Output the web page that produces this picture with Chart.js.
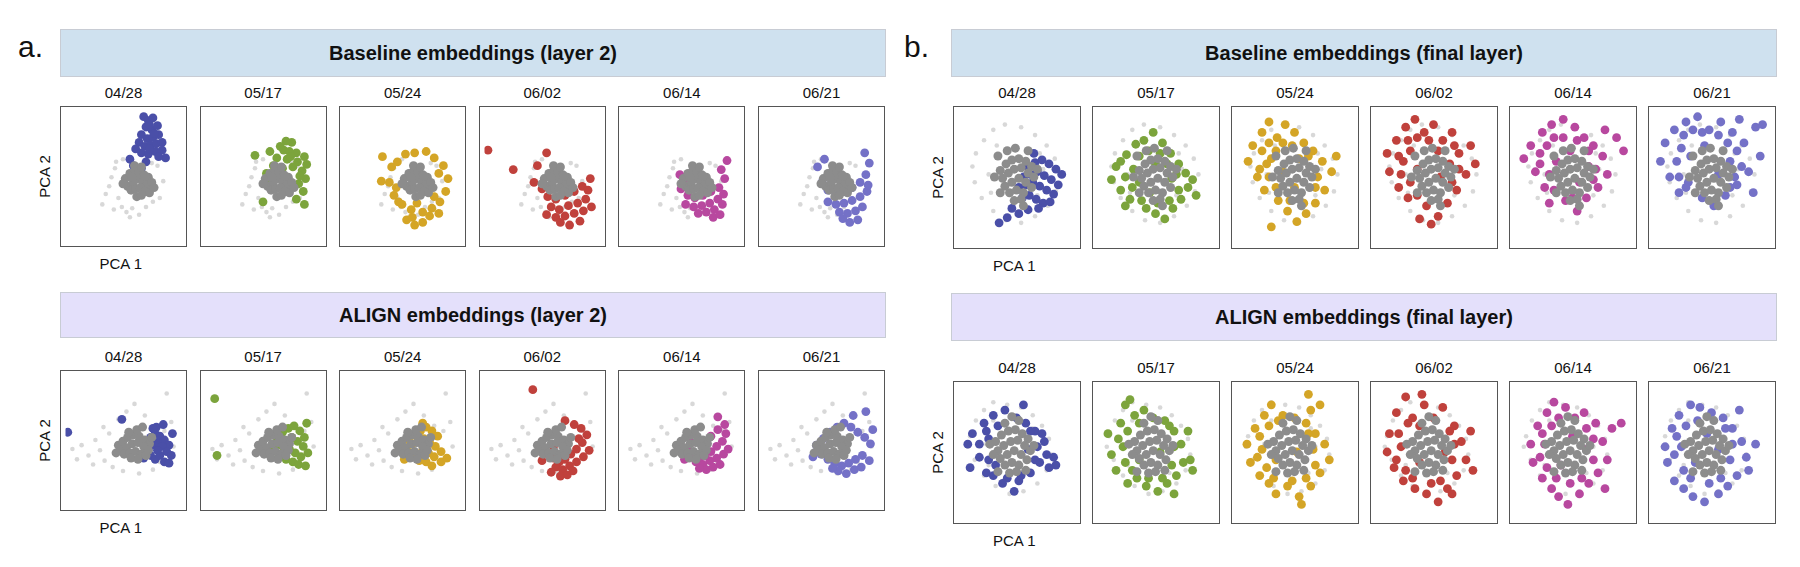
<!DOCTYPE html>
<html>
<head>
<meta charset="utf-8">
<script src="https://cdn.jsdelivr.net/npm/chart.js@4"></script>
<style>
  body { margin: 0; background: #fff; font-family: "Liberation Sans", Arial, sans-serif; }
  #wrap { position: relative; width: 1800px; height: 567px; }
  .banner { position: absolute; border: 1px solid #c8ccd4; font-weight: bold; font-size: 20px; color: #111;
            display: flex; align-items: center; justify-content: center; box-sizing: border-box; }
  .box { position: absolute; border: 1.5px solid #555; box-sizing: border-box; }
  .date { position: absolute; font-size: 15px; color: #111; text-align: center; }
  .lab { position: absolute; font-size: 15px; color: #111; }
  .tag { position: absolute; font-size: 30px; color: #111; }
</style>
</head>
<body>
<div id="wrap"></div>
<script>
// dates shown above each panel
const dates = ['04/28', '05/17', '05/24', '06/02', '06/14', '06/21'];
const dateColors = ['#4a4fa8', '#7ca43c', '#d4a526', '#c0413c', '#b8489f', '#7471c7'];

// grey background clouds (all other dates), PCA coords scaled 0-10
const greyCoreA1 = [[5.2,4.8],[5.6,5.2],[6.0,5.4],[6.4,5.3],[6.8,5.1],[7.2,4.9],[5.4,4.2],[5.9,4.5],[6.3,4.8],[6.7,4.6],[7.1,4.3],[7.5,4.5],[5.7,3.9],[6.1,4.0],[6.5,4.1],[6.9,3.8],[7.3,3.7],[6.2,3.4],[6.6,3.5],[5.0,4.4],[7.7,4.1],[6.0,5.8],[6.6,5.7],[5.8,4.9],[6.9,5.0]];
const greyHaloA1 = [[3.5,3.6],[4.0,4.9],[4.3,5.6],[4.6,3.3],[3.8,4.2],[4.9,2.6],[5.3,2.2],[5.8,2.5],[6.4,2.0],[7.0,2.6],[7.6,3.0],[8.2,3.3],[8.5,4.6],[8.0,5.8],[4.4,6.1],[5.0,6.3],[7.5,6.0],[3.2,2.8],[5.6,1.8],[4.2,2.4]];
const greyCoreA2 = [[4.6,4.6],[5.0,4.9],[5.4,5.2],[5.9,5.4],[6.4,5.3],[6.9,5.0],[7.3,4.7],[4.8,4.2],[5.3,4.4],[5.8,4.7],[6.3,4.8],[6.8,4.5],[7.2,4.2],[5.1,3.9],[5.6,4.0],[6.1,4.1],[6.6,3.9],[7.0,3.8],[5.7,3.6],[6.3,3.5],[6.2,5.8],[5.5,5.6],[7.5,5.2],[4.4,4.0],[6.7,6.0]];
const greyHaloA2 = [[0.6,4.3],[1.4,4.6],[2.0,3.8],[2.6,5.0],[3.0,4.2],[3.4,3.4],[3.8,5.5],[4.1,2.9],[2.4,3.1],[3.3,6.0],[4.6,6.6],[5.3,7.2],[6.0,7.8],[6.9,6.9],[7.8,6.1],[8.6,5.7],[9.2,6.4],[8.8,8.6],[8.2,3.3],[7.6,2.7],[5.0,2.6],[6.4,2.4],[1.0,3.5],[9.4,4.5]];
const greyCoreB1 = [[3.6,5.5],[4.1,6.0],[4.6,6.3],[5.2,6.4],[5.8,6.2],[6.3,5.8],[3.8,4.9],[4.3,5.3],[4.8,5.6],[5.4,5.7],[6.0,5.3],[6.5,5.0],[4.0,4.3],[4.6,4.6],[5.2,4.9],[5.8,4.6],[6.3,4.2],[4.4,3.8],[5.0,4.0],[5.6,3.8],[4.8,3.2],[5.4,3.3],[3.4,6.6],[6.0,7.0],[4.9,7.2],[3.1,5.0],[6.8,5.6],[4.2,7.0],[5.6,2.8],[3.6,3.8]];
const greyHaloB1 = [[1.5,6.8],[2.2,7.8],[3.0,8.6],[4.0,9.0],[5.4,8.8],[6.6,8.2],[7.6,7.4],[8.3,6.4],[8.7,5.2],[8.4,3.9],[7.7,2.8],[6.6,2.0],[5.4,1.5],[4.1,1.7],[3.0,2.4],[2.0,3.4],[1.4,4.6],[1.2,5.8],[2.6,5.2],[7.3,5.6],[3.3,7.4],[6.8,3.6],[2.8,3.8],[7.0,6.8]];
const greyCoreB2 = [[3.2,5.8],[3.7,6.3],[4.3,6.6],[4.9,6.7],[5.5,6.4],[6.0,6.0],[3.4,5.1],[3.9,5.5],[4.5,5.8],[5.1,5.9],[5.7,5.5],[6.2,5.1],[3.6,4.5],[4.2,4.8],[4.8,5.1],[5.4,4.8],[5.9,4.4],[4.0,4.0],[4.6,4.2],[5.2,4.0],[4.4,3.4],[5.0,3.5],[4.0,7.2],[5.2,7.4],[3.0,4.8],[2.7,5.6],[6.5,5.5],[3.4,3.5],[5.8,3.6],[4.6,7.7]];
const greyHaloB2 = [[1.0,6.2],[1.5,7.4],[2.2,8.2],[3.0,8.8],[4.2,8.6],[5.4,8.4],[6.4,7.8],[7.2,7.0],[7.8,6.0],[8.0,4.8],[7.6,3.6],[6.8,2.6],[5.6,2.0],[4.4,1.8],[3.2,2.4],[2.2,3.2],[1.4,4.4],[0.8,5.4],[2.4,5.6],[6.8,5.4],[3.0,7.4],[6.2,3.4],[2.6,4.0],[6.4,6.8]];

// highlighted date points: baseline layer 2
const baseL2 = [
  [[6.8,9.6],[7.2,9.3],[7.6,9.5],[7.0,8.8],[7.5,8.6],[8.0,8.9],[6.6,8.2],[7.1,7.9],[7.6,8.0],[8.1,8.2],[6.4,7.6],[6.9,7.3],[7.4,7.4],[7.9,7.5],[8.4,7.6],[6.6,6.8],[7.2,6.7],[7.8,6.9],[8.4,7.0],[8.7,6.4],[6.1,7.1],[5.6,6.3],[5.9,5.8],[7.0,6.1],[6.6,5.6],[7.3,9.0],[7.7,8.3],[7.3,7.1],[8.1,6.5]],
  [[7.5,7.6],[6.8,7.0],[5.6,6.9],[4.3,6.6],[7.9,6.8],[6.2,6.4],[7.1,6.3],[8.0,6.1],[8.6,6.5],[5.9,5.8],[6.7,5.6],[7.6,5.7],[8.4,5.4],[5.3,5.2],[8.7,4.8],[8.1,4.4],[8.5,3.8],[7.9,3.2],[8.6,2.8],[5.0,3.0],[5.5,4.6],[7.3,6.9],[6.5,7.3],[8.8,5.9],[7.0,7.7],[7.4,6.5],[8.2,5.0]],
  [[3.3,6.5],[3.2,4.6],[4.1,5.7],[4.6,6.1],[5.3,6.7],[6.1,6.8],[7.1,6.9],[7.8,6.4],[8.6,5.8],[9.0,4.8],[8.8,3.8],[8.3,3.0],[7.6,2.5],[6.8,2.2],[5.8,2.4],[5.0,2.8],[4.3,3.5],[3.9,4.5],[5.4,1.6],[6.1,1.2],[6.8,1.4],[4.7,3.0],[7.4,1.9],[4.5,4.1],[5.9,1.8],[8.2,2.1],[7.8,3.4],[6.3,2.9],[8.2,5.2]],
  [[0.3,7.0],[2.5,5.5],[5.4,6.8],[4.6,5.8],[4.3,4.5],[5.0,4.0],[5.5,3.4],[6.2,3.2],[7.0,3.5],[7.8,3.8],[8.5,4.2],[9.2,4.8],[5.8,2.6],[6.5,2.4],[7.3,2.7],[8.1,2.9],[8.8,3.2],[5.4,2.0],[6.2,1.8],[7.0,1.9],[7.8,2.1],[8.6,2.3],[9.3,2.6],[7.4,1.2],[8.3,1.5],[6.6,1.4],[9.0,3.9]],
  [[5.3,4.6],[5.0,4.0],[5.6,3.5],[6.2,3.3],[6.9,3.5],[7.6,3.8],[8.3,4.1],[8.8,4.8],[5.4,2.8],[6.1,2.6],[6.8,2.7],[7.5,2.9],[8.2,3.2],[8.7,3.6],[6.5,2.1],[7.2,2.2],[7.9,2.4],[8.6,2.8],[7.8,1.8],[8.4,2.0],[4.9,5.1],[8.5,5.5],[9.0,6.2],[5.8,4.1]],
  [[4.7,5.7],[5.1,4.5],[5.6,3.9],[6.3,3.6],[7.0,3.8],[7.7,4.1],[8.4,4.5],[8.9,5.1],[9.2,6.0],[5.6,3.0],[6.3,2.8],[7.0,2.9],[7.7,3.1],[8.4,3.4],[9.0,3.8],[6.6,2.2],[7.3,2.1],[8.0,2.3],[8.6,2.6],[7.5,1.4],[8.2,1.6],[6.9,1.7],[8.8,6.8],[5.3,6.3],[9.1,4.3]]
];
// ALIGN layer 2
const alignL2 = [
  [[7.0,4.8],[7.4,5.2],[7.8,5.5],[8.2,5.3],[8.6,5.0],[9.0,4.6],[7.2,4.3],[7.6,4.6],[8.0,4.8],[8.4,4.5],[8.8,4.1],[9.2,3.8],[7.4,3.8],[7.8,3.5],[8.2,3.8],[8.6,3.3],[9.3,5.5],[7.9,6.0],[8.5,6.2],[6.8,3.6],[0.2,5.6],[4.9,6.6],[8.0,4.2],[9.0,3.2],[7.6,5.9]],
  [[6.2,5.2],[6.7,5.6],[7.2,5.9],[7.7,6.1],[8.2,5.7],[8.6,5.2],[6.5,4.6],[7.0,4.9],[7.5,5.2],[8.0,4.9],[8.5,4.5],[8.9,4.0],[6.8,4.1],[7.3,4.3],[7.8,4.0],[8.3,3.7],[7.0,3.5],[7.6,3.3],[8.1,3.1],[6.4,3.8],[8.8,6.3],[0.8,8.2],[1.0,3.8],[8.7,3.0],[5.9,4.4]],
  [[5.6,5.0],[6.1,5.4],[6.6,5.7],[7.1,6.0],[7.6,5.7],[8.1,5.3],[5.4,4.4],[5.9,4.7],[6.4,4.9],[6.9,5.1],[7.4,4.8],[7.9,4.5],[8.4,4.1],[5.8,4.0],[6.3,3.9],[6.8,4.2],[7.3,4.0],[7.8,3.7],[8.4,3.3],[6.5,3.4],[7.1,3.3],[7.6,3.0],[8.9,3.6],[6.8,6.3],[5.2,3.5]],
  [[5.5,4.0],[6.0,3.6],[6.5,3.3],[7.0,3.5],[7.5,3.9],[8.0,4.3],[8.5,4.8],[8.9,5.4],[8.4,5.9],[7.8,6.2],[6.2,2.9],[6.8,2.7],[7.4,3.0],[8.0,3.3],[8.6,3.7],[6.6,2.2],[7.2,2.3],[5.8,2.5],[9.1,4.2],[8.2,5.1],[4.2,8.9],[7.0,6.5],[5.0,3.4],[7.7,2.6],[6.0,4.5]],
  [[5.6,4.2],[6.1,3.9],[6.6,3.6],[7.1,3.8],[7.6,4.1],[8.1,4.5],[8.6,4.9],[8.9,5.5],[6.3,3.3],[6.9,3.1],[7.5,3.4],[8.1,3.6],[8.7,3.9],[7.2,2.7],[7.8,2.9],[8.4,3.1],[8.2,5.8],[8.2,6.8],[7.6,5.3],[5.9,4.8],[9.1,4.3],[6.6,2.8],[8.8,6.2],[7.0,4.6],[5.3,3.5]],
  [[4.6,4.6],[5.2,5.1],[5.8,5.6],[6.4,6.0],[7.0,6.3],[7.6,6.0],[8.2,5.6],[8.8,5.2],[9.3,4.7],[5.0,3.9],[5.6,3.5],[6.2,3.2],[6.8,3.0],[7.4,3.2],[8.0,3.5],[8.6,3.8],[9.2,3.4],[6.5,2.6],[7.2,2.4],[7.9,2.7],[8.5,2.9],[7.8,6.9],[8.9,7.2],[4.3,3.7],[9.5,5.8],[6.0,2.8]]
];
// baseline final layer
const baseFinal = [
  [[6.0,5.8],[6.6,6.1],[7.2,6.3],[7.8,6.0],[8.4,5.6],[5.6,5.0],[6.2,5.2],[6.8,5.4],[7.4,5.1],[8.0,4.8],[8.6,4.4],[5.2,4.2],[5.8,4.4],[6.4,4.6],[7.0,4.3],[7.6,4.0],[8.2,3.7],[5.5,3.4],[6.1,3.6],[6.7,3.3],[7.3,3.0],[4.6,2.6],[5.2,2.2],[3.5,1.5],[4.2,1.9],[6.0,2.5],[8.9,5.2],[6.5,6.8],[7.9,3.1],[6.9,2.6]],
  [[1.2,4.8],[1.6,5.8],[2.0,4.0],[2.5,6.7],[2.8,3.3],[3.3,7.5],[3.6,4.6],[4.0,7.8],[4.2,2.6],[4.8,8.4],[5.0,2.2],[5.6,7.6],[5.8,1.8],[6.3,6.8],[6.5,2.6],[7.0,6.0],[7.2,3.3],[7.6,5.3],[7.8,4.2],[8.2,4.8],[3.1,5.6],[6.4,4.9],[5.0,6.0],[4.5,3.8],[8.5,3.6],[2.4,2.8],[2.4,5.0],[3.0,4.2],[3.6,6.6],[4.4,7.0],[5.4,6.8],[6.0,6.0],[6.8,5.2],[7.0,4.0],[6.2,3.2],[5.2,3.0],[3.8,3.2],[2.0,6.2]],
  [[1.0,6.2],[1.4,7.4],[1.8,5.0],[2.2,8.4],[2.4,4.0],[2.8,9.2],[3.0,6.4],[3.5,8.0],[3.6,3.2],[4.2,9.0],[4.4,2.4],[5.0,8.4],[5.2,1.6],[5.8,7.6],[6.0,2.2],[6.6,7.0],[6.8,3.0],[7.4,6.2],[7.6,4.0],[8.2,5.4],[8.6,6.6],[3.0,1.2],[4.0,5.4],[5.4,6.4],[2.6,6.0],[7.0,5.0],[5.0,4.2],[2.2,7.0],[2.8,7.6],[3.4,7.0],[4.0,7.6],[4.8,7.4],[2.0,5.6],[2.8,5.0],[3.4,4.2],[6.2,6.6],[6.8,4.2],[5.8,3.0],[4.6,3.2]],
  [[1.0,6.8],[1.2,5.4],[1.8,7.8],[2.0,4.2],[2.6,8.8],[2.8,3.4],[3.4,9.4],[3.6,5.6],[4.2,8.4],[4.4,2.8],[5.0,9.0],[5.4,2.0],[5.8,7.8],[6.2,3.0],[6.6,8.4],[7.0,4.0],[7.2,6.8],[7.8,5.2],[8.2,7.4],[8.6,6.0],[4.8,1.4],[3.0,7.0],[6.4,6.0],[2.4,6.2],[5.6,5.0],[3.8,1.8],[2.0,6.6],[2.2,5.2],[2.8,7.8],[3.6,8.0],[4.6,7.8],[3.0,4.6],[6.8,7.4],[7.2,5.6],[6.6,4.6],[3.6,3.6],[5.4,7.0]],
  [[0.8,6.4],[1.4,7.4],[1.8,5.4],[2.4,8.4],[2.6,4.2],[3.2,9.0],[3.6,6.2],[4.2,9.4],[4.4,3.2],[5.2,8.8],[5.4,2.4],[6.0,8.0],[6.2,3.4],[6.8,7.4],[7.2,4.2],[7.6,6.6],[8.0,5.2],[8.8,8.0],[9.4,7.0],[3.0,3.0],[4.8,7.0],[6.4,5.8],[2.2,6.8],[5.6,4.6],[7.8,8.6],[2.2,6.0],[2.8,7.4],[3.4,8.0],[4.2,8.0],[5.4,7.8],[6.4,7.0],[7.0,5.6],[3.0,5.2],[3.4,4.0],[6.8,4.8],[5.0,3.4]],
  [[0.6,6.2],[1.0,7.6],[1.4,5.0],[1.8,8.6],[2.2,3.8],[2.8,9.2],[3.2,6.6],[3.8,9.6],[4.2,3.4],[4.8,8.6],[5.2,2.8],[5.8,9.2],[6.2,3.6],[6.8,8.4],[7.2,4.4],[7.8,7.6],[8.2,5.4],[8.8,8.8],[9.2,6.6],[9.4,9.0],[3.0,4.6],[4.4,7.4],[6.6,6.2],[2.4,7.2],[5.6,5.2],[7.4,9.4],[8.6,3.8],[2.0,6.2],[2.6,8.2],[3.4,8.6],[4.2,8.4],[5.6,8.2],[6.4,7.6],[7.2,7.0],[7.6,5.8],[2.2,5.0],[2.8,4.2],[7.0,5.0],[6.6,4.2]]
];
// ALIGN final layer
const alignFinal = [
  [[0.8,5.6],[1.2,6.4],[1.0,3.8],[1.8,4.6],[2.2,7.2],[2.4,3.4],[3.0,7.8],[3.2,4.0],[4.0,8.2],[4.2,3.0],[5.0,7.6],[5.2,2.8],[5.8,7.2],[6.2,3.4],[6.6,6.6],[7.0,4.2],[7.4,5.8],[7.6,4.8],[8.2,4.6],[8.4,4.0],[2.6,6.0],[6.0,5.2],[4.8,2.0],[3.8,2.6],[5.6,8.6],[7.8,3.8],[1.8,5.6],[2.4,6.6],[2.6,4.4],[6.6,4.4],[6.8,5.4],[7.2,6.4],[6.2,6.6],[3.4,7.0],[5.4,3.2],[3.0,3.2]],
  [[0.9,6.4],[1.2,4.8],[1.6,3.6],[2.0,7.2],[2.4,8.6],[2.6,2.6],[3.2,7.8],[3.4,3.0],[4.0,8.2],[4.2,2.4],[4.8,7.6],[5.2,2.0],[5.8,7.4],[6.0,2.6],[6.6,6.6],[6.8,3.2],[7.2,5.6],[7.4,4.2],[7.8,6.6],[8.0,4.4],[2.2,5.4],[5.4,5.0],[3.6,4.4],[6.6,1.8],[8.2,3.6],[2.8,9.0],[1.8,6.0],[2.4,4.2],[2.6,6.6],[3.0,3.6],[6.4,4.0],[6.6,5.4],[6.2,7.0],[5.6,3.0],[4.4,3.0],[3.6,7.2]],
  [[0.9,5.6],[1.2,4.2],[1.6,6.8],[2.0,3.2],[2.4,7.8],[2.8,2.6],[3.0,8.6],[3.4,1.8],[4.0,7.8],[4.4,2.4],[5.0,7.6],[5.4,1.6],[6.0,7.2],[6.4,2.4],[6.8,6.4],[7.2,3.4],[7.6,5.6],[8.0,4.4],[6.4,8.2],[6.2,9.4],[5.6,1.0],[2.2,5.2],[5.2,5.0],[3.4,4.4],[7.2,8.6],[1.8,4.6],[2.0,6.2],[2.6,3.8],[2.8,7.0],[3.2,3.0],[6.6,5.2],[6.8,4.0],[6.0,3.0],[4.8,2.8],[3.6,7.4],[6.2,6.4]],
  [[1.0,5.0],[1.2,6.4],[1.6,3.8],[1.8,8.0],[2.4,2.8],[2.6,9.2],[3.2,7.6],[3.4,2.2],[4.2,8.6],[4.4,1.8],[5.0,7.6],[5.4,1.2],[5.8,8.4],[6.2,2.2],[6.8,7.0],[7.0,3.2],[7.4,5.8],[7.8,4.4],[8.2,6.6],[8.4,3.6],[2.2,5.4],[6.0,5.0],[3.8,4.2],[4.0,9.4],[6.6,1.8],[1.8,4.4],[2.0,6.4],[2.6,3.6],[2.8,7.2],[3.2,3.0],[6.6,4.4],[6.8,5.6],[6.4,6.6],[5.6,2.8],[4.8,2.6],[3.8,7.0]],
  [[1.4,5.6],[1.6,4.2],[2.0,7.0],[2.4,3.0],[2.8,8.0],[3.2,2.2],[3.4,8.8],[3.8,1.6],[4.4,8.4],[4.6,1.0],[5.2,7.6],[5.6,1.8],[6.0,8.0],[6.4,2.6],[7.0,7.2],[7.2,3.4],[7.6,5.8],[8.0,4.4],[8.4,6.8],[9.2,7.2],[2.6,5.6],[6.2,5.2],[4.0,4.0],[7.8,2.2],[5.0,6.2],[2.2,4.6],[2.4,6.4],[2.8,3.8],[3.2,7.0],[3.6,3.0],[6.8,4.4],[6.8,6.0],[6.2,6.8],[5.8,3.0],[4.8,2.6],[3.8,7.6]],
  [[1.0,5.4],[1.2,4.2],[1.6,6.8],[1.8,2.8],[2.2,7.8],[2.6,2.2],[3.2,8.6],[3.4,1.6],[4.0,8.4],[4.4,1.2],[5.0,8.0],[5.6,1.8],[6.0,7.6],[6.4,2.4],[6.8,6.8],[7.2,3.2],[7.6,5.8],[8.0,4.6],[8.2,3.6],[8.8,5.6],[2.4,5.4],[5.6,5.2],[3.6,4.2],[4.6,6.4],[7.4,8.2],[1.8,4.8],[2.0,6.2],[2.6,3.6],[2.8,7.0],[3.2,3.0],[6.6,4.4],[6.8,5.6],[6.2,6.8],[5.8,3.0],[4.8,2.6],[3.8,7.4]]
];

const wrap = document.getElementById('wrap');
function el(cls, css, text) {
  const d = document.createElement('div');
  d.className = cls;
  Object.assign(d.style, css);
  if (text) d.textContent = text;
  wrap.appendChild(d);
  return d;
}
const toXY = arr => arr.map(p => ({ x: p[0], y: p[1] }));

const groups = [
  { title: 'Baseline embeddings (layer 2)', bg: '#cfe1ef', bx: 60, by: 29, bh: 48, left: 60, step: 139.6, top: 106, w: 127, h: 141, pts: baseL2, core: greyCoreA1, halo: greyHaloA1 },
  { title: 'ALIGN embeddings (layer 2)', bg: '#e4e0fb', bx: 60, by: 292, bh: 46, left: 60, step: 139.6, top: 370, w: 127, h: 141, pts: alignL2, core: greyCoreA2, halo: greyHaloA2 },
  { title: 'Baseline embeddings (final layer)', bg: '#cfe1ef', bx: 951, by: 29, bh: 48, left: 953, step: 139, top: 106, w: 128, h: 143, pts: baseFinal, core: greyCoreB1, halo: greyHaloB1 },
  { title: 'ALIGN embeddings (final layer)', bg: '#e4e0fb', bx: 951, by: 293, bh: 48, left: 953, step: 139, top: 381, w: 128, h: 143, pts: alignFinal, core: greyCoreB2, halo: greyHaloB2 }
];

el('tag', { left: '18px', top: '30px' }, 'a.');
el('tag', { left: '904px', top: '30px' }, 'b.');

groups.forEach(g => {
  el('banner', { left: g.bx + 'px', top: g.by + 'px', width: '826px', height: g.bh + 'px', background: g.bg }, g.title);
  el('lab', { left: (g.left + g.w / 2 - 24) + 'px', top: (g.top + g.h + 8) + 'px' }, 'PCA 1');
  el('lab', { left: (g.left - 46) + 'px', top: (g.top + g.h / 2 - 9) + 'px', width: '60px', textAlign: 'center', transform: 'rotate(-90deg)' }, 'PCA 2');
  dates.forEach((d, i) => {
    const x = g.left + i * g.step;
    el('date', { left: x + 'px', top: (g.top - 22) + 'px', width: g.w + 'px' }, d);
    const box = el('box', { left: x + 'px', top: g.top + 'px', width: g.w + 'px', height: g.h + 'px' });
    const cv = document.createElement('canvas');
    cv.width = g.w - 3; cv.height = g.h - 3;
    box.appendChild(cv);
    new Chart(cv, {
      type: 'scatter',
      data: {
        datasets: [
          { data: toXY(g.core), backgroundColor: '#8c8c8c', borderWidth: 0, pointRadius: 4.5, order: 0 },
          { data: toXY(g.pts[i]), backgroundColor: dateColors[i], borderWidth: 0, pointRadius: 4.4, order: 1 },
          { data: toXY(g.halo), backgroundColor: 'rgba(190,190,190,0.6)', borderWidth: 0, pointRadius: 2.3, order: 2 }
        ]
      },
      options: {
        responsive: false, animation: false,
        layout: { padding: 0 },
        scales: { x: { display: false, min: 0, max: 10 }, y: { display: false, min: 0, max: 10 } },
        plugins: { legend: { display: false }, tooltip: { enabled: false } }
      }
    });
  });
});
</script>
</body>
</html>
